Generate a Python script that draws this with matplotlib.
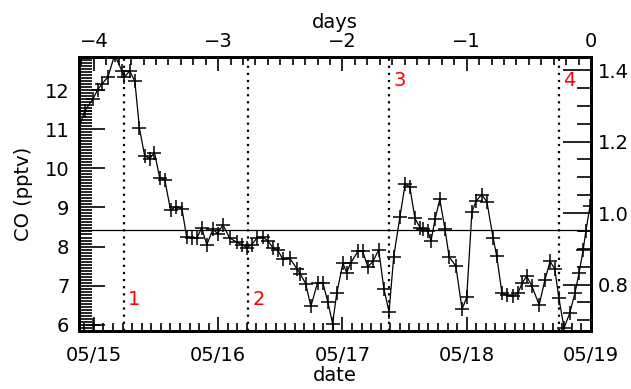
import numpy as np
import matplotlib
matplotlib.use("Agg")
import matplotlib.pyplot as plt
from matplotlib.ticker import MultipleLocator

# hours relative to 05/19 00:00, CO mixing ratio (pptv)
hours = [-99.7, -97.8, -96.2, -95.3, -94.5, -93.3, -92.0, -90.6, -90.1, -89.1,
         -88.1, -87.2, -86.2, -85.2, -84.3, -83.3, -82.3, -81.2, -80.2, -79.0,
         -78.1, -77.1, -76.1, -75.2, -74.2, -73.0, -72.1, -71.1, -69.8, -68.4,
         -67.4, -66.5, -65.5, -64.5, -63.4, -62.4, -61.4, -60.5, -59.5, -58.2,
         -56.8, -56.2, -55.1, -54.1, -52.8, -51.8, -50.8, -49.9, -49.1, -47.9,
         -47.2, -46.4, -45.0, -44.1, -43.1, -42.1, -41.0, -40.0, -39.0, -38.1,
         -36.9, -35.9, -35.0, -34.0, -33.0, -32.5, -31.5, -30.9, -30.1, -29.2,
         -28.2, -27.4, -26.1, -24.9, -24.0, -23.0, -22.2, -21.1, -20.1, -18.9,
         -18.2, -17.2, -16.2, -15.1, -14.1, -13.3, -12.4, -11.4, -10.0, -8.9,
         -7.9, -7.0, -6.2, -5.2, -4.1, -3.1, -2.3, -1.5, -1.0, -0.2]
co = [10.70, 11.46, 11.77, 12.00, 12.15, 12.33, 12.90, 12.49, 12.33, 12.49,
      12.23, 11.02, 10.32, 10.25, 10.40, 9.76, 9.70, 8.93, 9.02, 8.97,
      8.25, 8.22, 8.22, 8.48, 8.05, 8.44, 8.33, 8.56, 8.22, 8.11,
      8.05, 7.97, 8.05, 8.22, 8.25, 8.14, 7.97, 7.91, 7.67, 7.71,
      7.43, 7.31, 7.05, 6.47, 7.08, 7.08, 6.57, 6.03, 6.81, 7.58,
      7.33, 7.58, 7.88, 7.88, 7.48, 7.62, 7.92, 6.92, 6.33, 7.74,
      8.76, 9.59, 9.53, 8.72, 8.48, 8.44, 8.39, 8.14, 8.71, 9.21,
      8.44, 7.74, 7.50, 6.40, 6.70, 8.88, 9.16, 9.33, 9.14, 8.22,
      7.75, 6.81, 6.75, 6.73, 6.81, 7.07, 7.24, 6.98, 6.51, 7.15,
      7.62, 7.43, 6.68, 5.92, 6.30, 6.81, 7.33, 7.92, 8.39, 9.03]

# lone marker near the start
extra_hours = [-96.1]
extra_co = [6.0]

mean_co = 8.42
event_days = [-3.76, -2.76, -1.626, -0.258]
event_labels = ["1", "2", "3", "4"]
event_label_co = [6.65, 6.65, 12.25, 12.25]

date_labels = ["05/15", "05/16", "05/17", "05/18", "05/19"]
day_ticks = [-4, -3, -2, -1, 0]

plt.rcParams["font.family"] = ["DejaVu Sans"]
plt.rcParams["font.size"] = 14

fig = plt.figure(figsize=(6.31, 3.89), dpi=100)
ax = fig.add_axes([0.1252, 0.150, 0.8114, 0.704])

days = np.array(hours) / 24.0
ax.plot(days, co, color="black", lw=0.9, marker="+", ms=10, mew=1.1)
ax.plot(np.array(extra_hours) / 24.0, extra_co, ls="none", color="black",
        marker="+", ms=10, mew=1.1)
ax.axhline(mean_co, color="black", lw=0.9)
for d, lab, yl in zip(event_days, event_labels, event_label_co):
    ax.axvline(d, color="black", lw=1.6, ls=(0, (1, 2.2)))
    ax.text(d + 0.035, yl, lab, color="red", fontsize=14, ha="left", va="center")

ax.set_xlim(-4.12, 0)
ax.set_ylim(5.85, 12.85)
ax.set_xticks(day_ticks)
ax.set_xticklabels(date_labels)
ax.xaxis.set_minor_locator(MultipleLocator(1 / 13.0))
ax.yaxis.set_major_locator(MultipleLocator(1))
ax.yaxis.set_minor_locator(MultipleLocator(1 / 13.0))
ax.set_xlabel("date", labelpad=1)
ax.set_ylabel("CO (pptv)", labelpad=8)
ax.tick_params(axis="x", which="major", direction="in", length=10, width=1.2,
               pad=11, top=False)
ax.tick_params(axis="x", which="minor", direction="in", length=6, width=1.2,
               top=False)
ax.tick_params(axis="y", which="major", direction="in", length=19, width=1.2,
               pad=7, right=False)
ax.tick_params(axis="y", which="minor", direction="in", length=9, width=1.2,
               right=False)

axr = ax.twinx()
axr.set_ylim(0.671, 1.437)
axr.set_yticks([0.8, 1.0, 1.2, 1.4])
axr.set_yticklabels(["0.8", "1.0", "1.2", "1.4"])
axr.yaxis.set_minor_locator(MultipleLocator(0.05))
axr.tick_params(axis="y", which="major", direction="in", length=20, width=1.2, pad=5)
axr.tick_params(axis="y", which="minor", direction="in", length=10, width=1.2)

axt = ax.twiny()
axt.set_xlim(-4.12, 0)
axt.set_xticks(day_ticks)
axt.set_xticklabels(["\u22124", "\u22123", "\u22122", "\u22121", "0"])
axt.xaxis.set_minor_locator(MultipleLocator(0.1))
axt.set_xlabel("days", labelpad=3)
axt.tick_params(axis="x", which="major", direction="in", length=10, width=1.2, pad=4)
axt.tick_params(axis="x", which="minor", direction="in", length=6, width=1.2)

for a in (ax, axr, axt):
    for s in a.spines.values():
        s.set_linewidth(1.8)

fig.savefig("out.png", dpi=100)
